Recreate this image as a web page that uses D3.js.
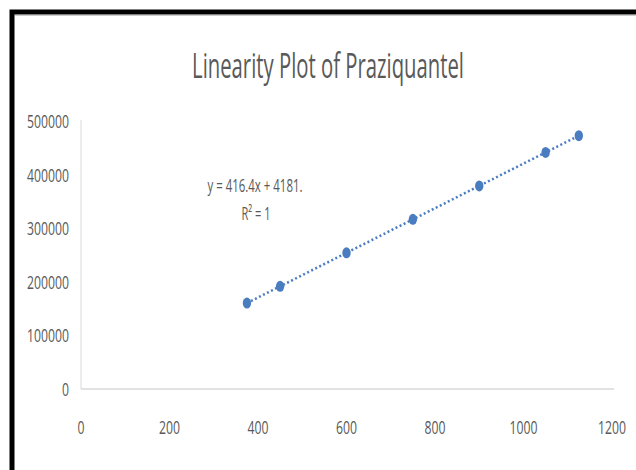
<!DOCTYPE html>
<html>
<head>
<meta charset="utf-8">
<script src="https://cdn.jsdelivr.net/npm/d3@7"></script>
<style>
  body { margin: 0; background: #fff; }
  svg { display: block; }
  text { font-family: "Open Sans", sans-serif; fill: #595959; }
</style>
</head>
<body>
<div id="chart"></div>
<script>
// concentration vs peak area
var conc = [375, 450, 600, 750, 900, 1050, 1125];
var area = [160300, 191600, 254000, 316500, 378900, 441400, 472600];
var xTicks = [0, 200, 400, 600, 800, 1000, 1200];
var yTicks = [0, 100000, 200000, 300000, 400000, 500000];
var slope = 416.4, intercept = 4181;

var width = 636,
    height = 470;

var svg = d3.select("#chart").append("svg")
    .attr("width", width)
    .attr("height", height)

// condensed look: squeeze text horizontally around its anchor point
function label(px, py, str, size, anchor, w) {
    var g = svg.append("g");
    var t = g.append("text")
        .attr("text-anchor", anchor)
        .attr("font-size", size)
        .text(str);
    var s = w / t.node().getComputedTextLength();
    g.attr("transform", "translate(" + px + "," + py + ") scale(" + s + ",1)");
    return t;
}

// frame
svg.append("rect")
    .attr("x", 12).attr("y", 12)
    .attr("width", 700).attr("height", 600)
    .attr("fill", "none")
    .attr("stroke", "#000")
    .attr("stroke-width", 5)
svg.append("line")
    .attr("x1", 15).attr("x2", width)
    .attr("y1", 15.5).attr("y2", 15.5)
    .attr("stroke", "#ccc")

var x = d3.scaleLinear().domain([0, 1200]).range([81, 612]);
var y = d3.scaleLinear().domain([0, 500000]).range([389, 121]);

label(328, 78, "Linearity Plot of Praziquantel", 34, "middle", 272);

// axes
svg.append("line")
    .attr("x1", x(0)).attr("x2", x(0))
    .attr("y1", y(0)).attr("y2", 120)
    .attr("stroke", "#d9d9d9")
svg.append("line")
    .attr("x1", x(0)).attr("x2", 614)
    .attr("y1", y(0)).attr("y2", y(0))
    .attr("stroke", "#d9d9d9")
    .attr("stroke-width", 1.3)

yTicks.forEach(function (d) {
    label(69, y(d) + 7, String(d), 19, "end", String(d).length * 7);
});
xTicks.forEach(function (d) {
    label(x(d), 434, String(d), 19, "middle", String(d).length * 7);
});

// trendline
var x0 = d3.min(conc), x1 = d3.max(conc);
svg.append("line")
    .attr("x1", x(x0)).attr("y1", y(slope * x0 + intercept))
    .attr("x2", x(x1)).attr("y2", y(slope * x1 + intercept))
    .attr("stroke", "#4a7cc0")
    .attr("stroke-width", 2.5)
    .attr("stroke-dasharray", "2,2.5")

svg.selectAll(".pt")
    .data(conc).enter().append("ellipse")
    .attr("class", "pt")
    .attr("cx", function (d) { return x(d); })
    .attr("cy", function (d, i) { return y(area[i]); })
    .attr("rx", 4.2)
    .attr("ry", 5.5)
    .attr("fill", "#4a7cc0")

label(255, 192, "y = 416.4x + 4181.", 18, "middle", 95);
label(256, 220, "R² = 1", 18, "middle", 29);
</script>
</body>
</html>
